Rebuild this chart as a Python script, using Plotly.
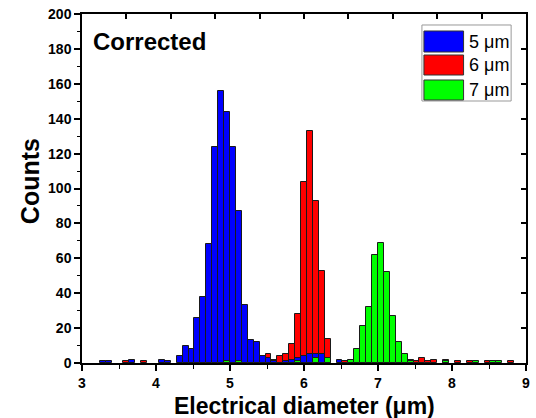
import numpy as np
import plotly.graph_objects as go

# ---------------- data ----------------
bin_width = 0.08
bin_left = np.round(3.0 + bin_width * np.arange(75), 2)   # bins 3.00 .. 8.92
bin_center = bin_left + bin_width / 2

counts_5um = [
    0, 0, 0, 1, 1, 0, 0, 0, 2, 0,
    0, 0, 0, 2, 1, 0, 4, 10, 8, 26,
    38, 68, 124, 156, 144, 124, 87, 33, 13, 12,
    4, 3, 1, 0, 1, 2, 3, 4, 5, 5,
    5, 0, 0, 2, 0, 0, 0, 0, 0, 0,
    0, 0, 0, 0, 0, 0, 0, 0, 0, 0,
    0, 0, 0, 0, 0, 0, 0, 0, 0, 0,
    0, 0, 0, 0, 0,
]
counts_6um = [
    0, 0, 0, 0, 0, 0, 0, 1, 0, 0,
    1, 0, 0, 0, 0, 0, 0, 0, 0, 0,
    0, 0, 0, 0, 0, 0, 0, 0, 0, 0,
    0, 5, 2, 4, 5, 11, 28, 104, 133, 93,
    53, 14, 0, 0, 1, 0, 0, 0, 0, 0,
    0, 0, 0, 0, 0, 2, 1, 3, 1, 2,
    0, 2, 0, 1, 0, 1, 0, 0, 1, 0,
    0, 0, 1, 0, 0,
]
counts_7um = [
    0, 0, 0, 0, 0, 0, 0, 0, 0, 0,
    0, 0, 0, 0, 0, 0, 0, 0, 0, 0,
    0, 0, 0, 0, 1, 0, 1, 0, 0, 0,
    0, 0, 0, 0, 0, 0, 1, 0, 0, 3,
    0, 3, 0, 0, 0, 2, 8, 21, 32, 62,
    69, 52, 27, 12, 5, 1, 0, 0, 0, 0,
    0, 1, 0, 0, 0, 0, 1, 0, 0, 1,
    1, 0, 0, 0, 0,
]
series_names = ["5 \u03bcm", "6 \u03bcm", "7 \u03bcm"]
series_colors = ["#0000FF", "#FF0000", "#00FF00"]
x_ticks = [3, 4, 5, 6, 7, 8, 9]
y_ticks = list(range(0, 201, 20))

FONT = "Liberation Sans, Arial, sans-serif"

fig = go.Figure()

# draw order: 6 um (back), 5 um, 7 um (front)
for idx in [1, 0, 2]:
    vals = [counts_5um, counts_6um, counts_7um][idx]
    yv = [v if v > 0 else None for v in vals]
    fig.add_trace(go.Bar(
        x=bin_center, y=yv, width=bin_width,
        name=series_names[idx],
        marker=dict(color=series_colors[idx], line=dict(color="#1a1a1a", width=1)),
        showlegend=False,
    ))

# empty trace to anchor top/right frame axes
fig.add_trace(go.Scatter(x=[], y=[], xaxis="x2", yaxis="y2", showlegend=False))

axis_common = dict(showgrid=False, zeroline=False, showline=True,
                   linecolor="black", linewidth=1.5, tickcolor="black", tickwidth=1.5)

fig.update_layout(
    width=536, height=418,
    margin=dict(l=82, r=6, t=14, b=55),
    paper_bgcolor="white", plot_bgcolor="white",
    barmode="overlay", bargap=0,
    xaxis=dict(range=[3, 9], tickvals=x_ticks, ticks="outside", ticklen=6,
               minor=dict(dtick=0.5, ticks="outside", ticklen=4, tickcolor="black", tickwidth=1.2),
               tickfont=dict(family=FONT, size=14, color="black", weight="bold"),
               **axis_common),
    yaxis=dict(range=[0, 200], tickvals=y_ticks, ticks="outside", ticklen=6,
               minor=dict(dtick=10, ticks="outside", ticklen=3, tickcolor="black", tickwidth=1.2),
               tickfont=dict(family=FONT, size=14, color="black", weight="bold"),
               **axis_common),
    xaxis2=dict(range=[3, 9], overlaying="x", side="top", anchor="y",
                tickvals=[round(3 + 0.6 * i, 1) for i in range(11)],
                ticks="inside", ticklen=5, showticklabels=False, **axis_common),
    yaxis2=dict(range=[0, 200], overlaying="y", side="right", anchor="x",
                tickvals=y_ticks, ticks="inside", ticklen=5, showticklabels=False,
                **axis_common),
    font=dict(family=FONT, color="black"),
)

# axis titles
fig.add_annotation(text="<b>Electrical diameter (\u03bcm)</b>", xref="paper", yref="paper",
                   x=0.502, y=-0.122, xanchor="center", yanchor="middle", showarrow=False,
                   font=dict(family=FONT, size=23, color="black"))
fig.add_annotation(text="<b>Counts</b>", xref="paper", yref="paper",
                   x=-0.118, y=0.52, xanchor="center", yanchor="middle", showarrow=False,
                   textangle=-90, font=dict(family=FONT, size=25, color="black"))
fig.add_annotation(text="<b>Corrected</b>", xref="paper", yref="paper",
                   x=0.02, y=0.92, xanchor="left", yanchor="middle", showarrow=False,
                   font=dict(family=FONT, size=24, color="black"))

# custom legend (big swatches)
fig.add_shape(type="rect", xref="paper", yref="paper", x0=0.7656, x1=0.9665, y0=0.7507, y1=0.9685,
              line=dict(color="#999999", width=1), fillcolor="white", layer="above")
rows = [(0.9513, 0.8911), (0.8825, 0.8252), (0.8109, 0.7536)]
for i, (ytop, ybot) in enumerate(rows):
    fig.add_shape(type="rect", xref="paper", yref="paper", x0=0.7701, x1=0.8594, y0=ybot, y1=ytop,
                  line=dict(color="#333333", width=1), fillcolor=series_colors[i], layer="above")
    fig.add_annotation(text=series_names[i], xref="paper", yref="paper",
                       x=0.866, y=(ytop + ybot) / 2, xanchor="left", yanchor="middle",
                       showarrow=False, font=dict(family=FONT, size=18, color="black"))

fig.write_html("out.html")
